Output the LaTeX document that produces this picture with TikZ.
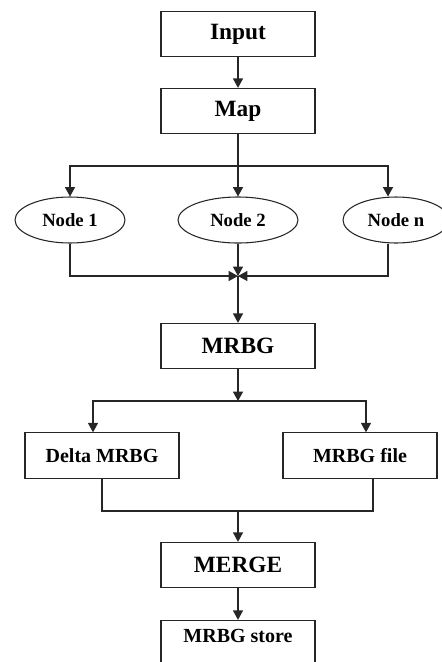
\documentclass[tikz,border=0pt]{standalone}
\usepackage{fontspec}
\setmainfont{Liberation Serif}
\usetikzlibrary{arrows.meta,shapes.geometric}

\begin{document}
\begin{tikzpicture}[x=0.75pt,y=-0.75pt,line width=0.8pt,draw=black!85,
	-{Triangle[width=7.5pt,length=7pt]},
	box/.style={draw,rectangle,minimum width=115.5pt,minimum height=34pt,inner sep=0pt,
		font=\bfseries\fontsize{15}{18}\selectfont},
	bigbox/.style={box,font=\bfseries\fontsize{17.5}{20}\selectfont},
	worker/.style={draw,ellipse,minimum height=34.5pt,inner sep=0pt,
		font=\bfseries\fontsize{14}{16}\selectfont}]
	\useasboundingbox (0,0) rectangle (442,662);
	\node[bigbox] (In) at (238,34) {Input};
	\node[bigbox] (Map) at (238,111) {Map};
	\node[worker,minimum width=82.5pt] (N1) at (70,220) {Node 1};
	\node[worker,minimum width=90pt] (N2) at (238,220) {Node 2};
	\node[worker,minimum width=79.5pt] (Nn) at (396,220) {Node n};
	\node[bigbox] (MRBG) at (238,346) {MRBG};
	\node[box] (Delta) at (102,455.5) {Delta MRBG};
	\node[box] (File) at (360,455.5) {MRBG file};
	\node[bigbox] (Merge) at (238,565) {MERGE};
	\node[box,text depth=10pt] (Store) at (238,643) {MRBG store};
	\coordinate (fork1) at (238,166);
	\coordinate (join1) at (238,276);
	\coordinate (fork2) at (238,401);
	\coordinate (join2) at (238,511);
	\draw (In) to (Map);
	\draw[-] (Map) to (fork1);
	\draw (fork1) -| (N1);
	\draw (fork1) to (N2);
	\draw (fork1) -| ([xshift=-6pt]Nn.north);
	\draw (N1) |- (join1);
	\draw (N2) to (join1);
	\draw ([xshift=-6pt]Nn.south) |- (join1);
	\draw (join1) to (MRBG);
	\draw (MRBG) to (fork2);
	\draw (fork2) -| ([xshift=-6.75pt]Delta.north);
	\draw (fork2) -| ([xshift=4.5pt]File.north);
	\draw[-] (Delta) |- (join2) -| ([xshift=9.75pt]File.south);
	\draw (join2) to (Merge);
	\draw (Merge) to (Store);
\end{tikzpicture}
\end{document}
